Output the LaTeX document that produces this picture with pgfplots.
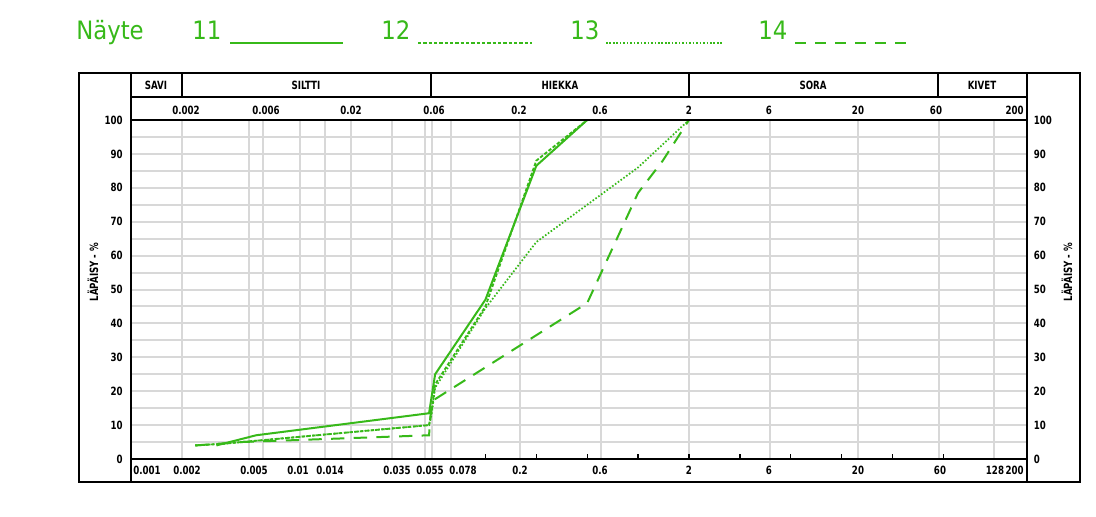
\documentclass[border=0pt]{standalone}
\usepackage{pgfplots}
\pgfplotsset{compat=1.18}
\usepackage{fontspec}
\setmainfont{DejaVu Sans Condensed}
\newfontfamily\labf{DejaVu Sans Condensed}[FakeStretch=0.85]
\definecolor{gr}{RGB}{55,185,25}
\definecolor{gridc}{RGB}{216,216,216}
\newcommand\lab{\labf\fontsize{8.5}{9.5}\selectfont\bfseries}
\newcommand\ttl{\fontsize{19}{22}\selectfont}

\pgfplotstableread{
x y
0.0032 4
0.0055 7
0.058 13.5
0.063 25
0.125 47
0.25 86.5
0.5 100
}\sA
\pgfplotstableread{
x y
0.0024 4
0.0035 4.5
0.058 10
0.06 14
0.063 22
0.125 45
0.25 88
0.5 100
}\sB
\pgfplotstableread{
x y
0.0024 4
0.0035 4.5
0.058 10
0.06 13
0.063 21
0.125 44.5
0.25 64
1 86
2 100
}\sC
\pgfplotstableread{
x y
0.0024 4
0.0045 5
0.058 7
0.06 17
0.5 46
1 78.5
1.4 88
2 100
}\sD

\begin{document}
\begin{tikzpicture}[x=0.75pt,y=-0.75pt]
\useasboundingbox (0,0) rectangle (1096,517);
% title / legend
\node[anchor=base west,inner sep=0,text=gr,font=\ttl] at (76,40) {Näyte};
\node[anchor=base west,inner sep=0,text=gr,font=\ttl] at (192,40) {11};
\node[anchor=base west,inner sep=0,text=gr,font=\ttl] at (381,40) {12};
\node[anchor=base west,inner sep=0,text=gr,font=\ttl] at (570,40) {13};
\node[anchor=base west,inner sep=0,text=gr,font=\ttl] at (758,40) {14};
\draw[gr,line width=1.5pt] (230,43)--(343,43);
\draw[gr,line width=1.3pt,dash pattern=on 2.6pt off 1.4pt] (418,43)--(532,43);
\draw[gr,line width=1.3pt,dash pattern=on 1.2pt off 1.4pt] (606,43)--(722,43);
\draw[gr,line width=1.5pt,dash pattern=on 8pt off 7pt] (795,43)--(910,43);

\begin{axis}[
  at={(98.25pt,-344.25pt)}, anchor=south west,
  scale only axis, width=672pt, height=254.25pt,
  xmode=log, xmin=0.001, xmax=200, ymin=0, ymax=100,
  axis line style={line width=1.1pt},
  xtick={0.002,0.005,0.006,0.01,0.014,0.02,0.035,0.055,0.06,0.078,0.2,0.6,2,6,20,60,128},
  xticklabels={}, major tick length=0pt, minor tick length=0pt,
  xtick pos=bottom, ytick pos=left,
  extra x ticks={0.125,0.25,0.5,1,2,4,8,16,32,64},
  extra x tick labels={},
  extra x tick style={grid=none, tick align=inside, major tick length=3.5pt, tick style={black,line width=1pt}},
  minor x tick num=0,
  ytick={0,10,...,100},
  yticklabels={0,10,20,30,40,50,60,70,80,90,100},
  minor ytick={5,15,...,95},
  xmajorgrids, ymajorgrids, yminorgrids,
  major grid style={gridc,line width=1.5pt},
  minor grid style={gridc,line width=1.5pt},
  yticklabel style={font=\lab, inner sep=0pt, xshift=-6pt},
  clip=false,
]
\addplot[gr,line width=1.5pt] table[x=x,y=y] {\sA};
\addplot[gr,line width=1.4pt,dash pattern=on 2.6pt off 1.4pt] table[x=x,y=y] {\sB};
\addplot[gr,line width=1.3pt,dash pattern=on 1.2pt off 1.4pt] table[x=x,y=y] {\sC};
\addplot[gr,line width=1.5pt,dash pattern=on 10pt off 7pt] table[x=x,y=y] {\sD};
\pgfplotsinvokeforeach{0,10,20,30,40,50,60,70,80,90,100}{
  \node[anchor=west,inner sep=0pt,font=\lab] at (axis cs:200,#1) [xshift=5pt] {#1};
}
\end{axis}

% frame and header
\draw[line width=1.2pt] (79,73) rectangle (1080,482);
\draw[line width=1.1pt] (131,73)--(131,482);
\draw[line width=1.1pt] (1027,73)--(1027,482);
\draw[line width=1.1pt] (131,97)--(1027,97);
\draw[line width=1.9pt] (131,120)--(1027,120);
\draw[line width=1.9pt] (131,459)--(1027,459);
\foreach \xx in {182,431,689,938} \draw[line width=1.1pt] (\xx,73)--(\xx,97);
\node[font=\lab] at (156,85) {SAVI};
\node[font=\lab] at (306,85) {SILTTI};
\node[font=\lab] at (560,85) {HIEKKA};
\node[font=\lab] at (813,85) {SORA};
\node[font=\lab] at (982,85) {KIVET};
% top size labels
\foreach \xx/\tt in {186/0.002,266/0.006,351/0.02,434/0.06,519/0.2,600/0.6,689/2,769/6,858/20,936/60}
  \node[font=\lab,inner sep=0pt] at (\xx,110) {\tt};
\node[font=\lab,inner sep=0pt,anchor=east] at (1024,110) {200};
% bottom size labels
\foreach \xx/\tt in {147/0.001,187/0.002,254/0.005,298/0.01,330/0.014,397/0.035,430/0.055,463/0.078,520/0.2,600/0.6,689/2,769/6,858/20,940/60,995/128}
  \node[font=\lab,inner sep=0pt] at (\xx,470) {\tt};
\node[font=\lab,inner sep=0pt,anchor=east] at (1024,470) {200};
% y axis titles
\node[font=\lab,rotate=90] at (93,272) {LÄPÄISY - \%};
\node[font=\lab,rotate=90] at (1067,272) {LÄPÄISY - \%};
\end{tikzpicture}
\end{document}
